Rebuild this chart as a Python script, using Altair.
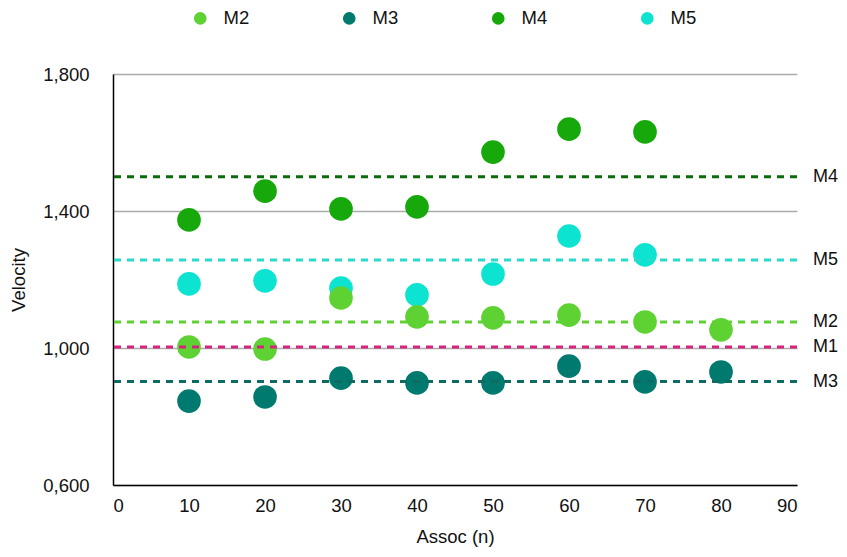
import altair as alt
import pandas as pd

# ---- data ----
assoc = [10, 20, 30, 40, 50, 60, 70, 80]
m2 = [1.003, 0.997, 1.146, 1.091, 1.088, 1.096, 1.076, 1.053]
m3 = [0.845, 0.857, 0.912, 0.898, 0.898, 0.947, 0.901, 0.930]
m4 = [1.374, 1.458, 1.406, 1.412, 1.572, 1.639, 1.631]
m5 = [1.187, 1.196, 1.175, 1.155, 1.216, 1.327, 1.272]

series_names = ["M2", "M3", "M4", "M5"]
series_colors = ["#5ED233", "#00796E", "#17A90B", "#0CE3D0"]

ref_names = ["M4", "M5", "M2", "M1", "M3"]
ref_values = [1.500, 1.257, 1.076, 1.003, 0.902]
ref_colors = ["#0B6A0B", "#2ADBCC", "#5ED233", "#D6247E", "#0E6B62"]

draw_rank = {"M5": 0, "M4": 1, "M3": 2, "M2": 3}

rows = []
for name, vals in zip(series_names, [m2, m3, m4, m5]):
    for x, v in zip(assoc, vals):
        rows.append({"assoc": x, "velocity": v, "series": name, "rank": draw_rank[name]})
pts = pd.DataFrame(rows).sort_values("rank")

refs = pd.DataFrame({"name": ref_names, "value": ref_values, "col": ref_colors, "xend": [90] * 5})

FS = 18.5
TXT = "#111111"

x_scale = alt.Scale(domain=[0, 90], nice=False, zero=False)
y_scale = alt.Scale(domain=[0.6, 1.8], nice=False, zero=False)

points = alt.Chart(pts).mark_circle(size=560, opacity=1).encode(
    x=alt.X("assoc:Q", scale=x_scale,
            axis=alt.Axis(title="Assoc (n)", values=list(range(0, 91, 10)), grid=False,
                          ticks=False, domainColor="#000", domainWidth=1.5,
                          labelFontSize=FS, labelPadding=11, titleFontSize=FS,
                          titleFontWeight="normal", titlePadding=13, labelColor=TXT,
                          titleColor=TXT)),
    y=alt.Y("velocity:Q", scale=y_scale,
            axis=alt.Axis(title="Velocity", values=[0.6, 1.0, 1.4, 1.8],
                          labelExpr="replace(format(datum.value, '.3f'), '.', ',')",
                          grid=True, gridColor="#ABABAB", gridWidth=1.5,
                          ticks=False, domainColor="#000", domainWidth=1.5,
                          labelFontSize=FS, labelPadding=24, titleFontSize=FS,
                          titleFontWeight="normal", titlePadding=14, labelColor=TXT,
                          titleColor=TXT)),
    color=alt.Color("series:N",
                    scale=alt.Scale(domain=series_names, range=series_colors),
                    legend=alt.Legend(title=None, orient="none", direction="horizontal",
                                      legendX=78, legendY=-65, padding=0,
                                      symbolType="circle", symbolSize=160,
                                      labelFontSize=FS, labelOffset=14,
                                      columnPadding=90, labelColor=TXT,
                                      symbolOpacity=1)),
    order=alt.Order("rank:Q"),
)

rules = alt.Chart(refs).mark_rule(strokeWidth=3, strokeDash=[7, 6]).encode(
    y=alt.Y("value:Q", scale=y_scale),
    stroke=alt.Stroke("col:N", scale=None),
)

labels = alt.Chart(refs).mark_text(align="left", baseline="middle", dx=16,
                                   fontSize=18, color=TXT).encode(
    x=alt.X("xend:Q", scale=x_scale),
    y=alt.Y("value:Q", scale=y_scale),
    text="name:N",
)

chart = alt.layer(points, rules, labels).properties(
    width=684, height=411,
    autosize=alt.AutoSizeParams(type="none"),
    padding={"left": 105, "top": 66, "right": 42, "bottom": 64},
).configure(font="Liberation Sans").configure_view(stroke=None)

chart.save("out.html", embed_options={"renderer": "svg", "actions": False})
